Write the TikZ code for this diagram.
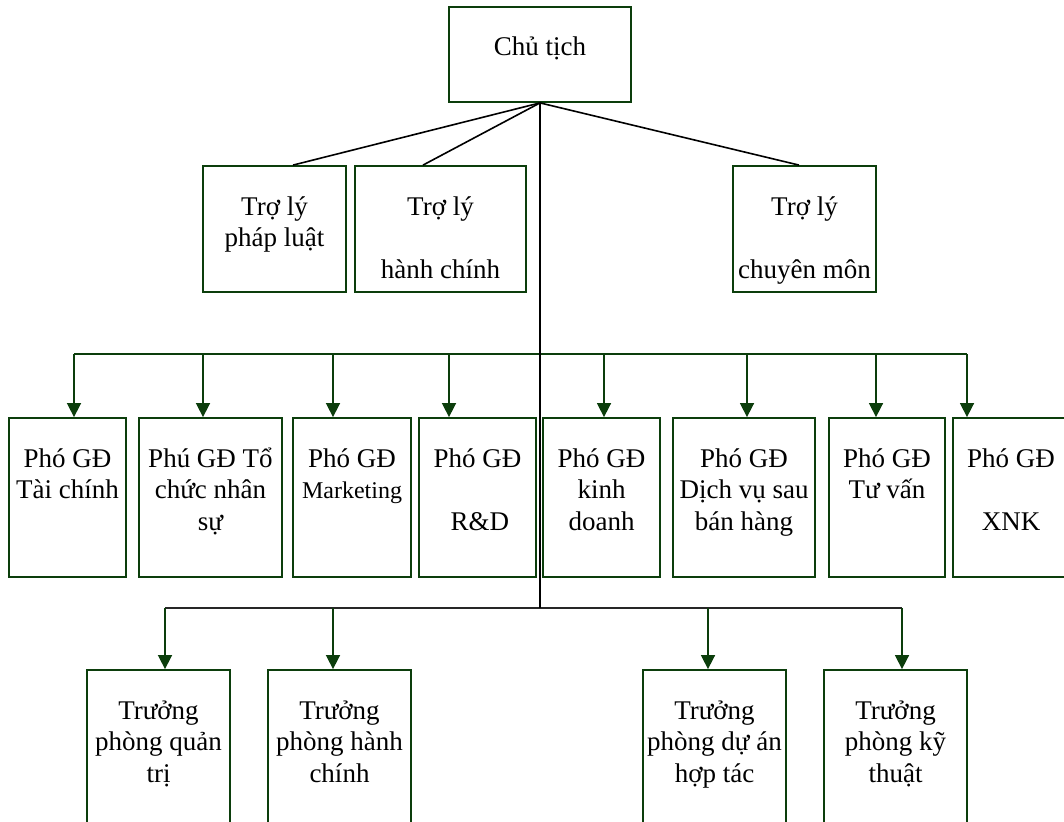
\documentclass[tikz,border=0pt]{standalone}
\usepackage{fontspec}
\setmainfont{Liberation Serif}
\usetikzlibrary{arrows.meta}

\definecolor{boxgreen}{RGB}{12,62,12}

% box text: fixed box size, first baseline 49pt below the top edge
\newcommand\boxtext[3]{\parbox[c][#2][t]{#1}{\centering\rule{0pt}{49pt}#3}}
\newcommand\tl[1]{\makebox[0pt]{#1}}

\begin{document}
\begin{tikzpicture}[x=1pt,y=-1pt,
  orgbox/.style={draw=boxgreen, line width=1.8pt, inner sep=0pt, fill=white,
                 font=\fontsize{27}{31.5}\selectfont},
  link/.style={draw=black, line width=1.6pt},
  spine/.style={draw=black, line width=1.8pt},
  bus/.style={draw=boxgreen, line width=1.6pt},
  blackbus/.style={draw=black!85, line width=1.6pt},
  arr/.style={draw=boxgreen, line width=1.6pt,
              -{Triangle[width=14pt,length=14pt]}, fill=boxgreen}]
\useasboundingbox (0,0) rectangle (1064,821);
\clip (0,0) rectangle (1064,821);

% top level
\node[orgbox] (ct) at (540,54.5) {\boxtext{182pt}{95pt}{\tl{Chủ tịch}}};

% assistants
\node[orgbox] (pl) at (274.5,229) {\boxtext{143pt}{126pt}{\tl{Trợ lý}\\\tl{pháp luật}}};
\node[orgbox] (hc) at (440.5,229) {\boxtext{171pt}{126pt}{\tl{Trợ lý}\\[31.5pt]\tl{hành chính}}};
\node[orgbox] (cm) at (804.5,229) {\boxtext{143pt}{126pt}{\tl{Trợ lý}\\[31.5pt]\tl{chuyên môn}}};

% deputy directors
\node[orgbox] (m1) at (67.5,497.5) {\boxtext{117pt}{159pt}{\tl{Phó GĐ}\\\tl{Tài chính}}};
\node[orgbox] (m2) at (210.5,497.5) {\boxtext{143pt}{159pt}{\tl{Phú GĐ Tổ}\\\tl{chức nhân}\\\tl{sự}}};
\node[orgbox] (m3) at (352,497.5) {\boxtext{118pt}{159pt}{\tl{Phó GĐ}\\\tl{\fontsize{24}{31.5}\selectfont Marketing}}};
\node[orgbox] (m4) at (477.5,497.5) {\boxtext{117pt}{159pt}{\tl{Phó GĐ}\\[31.5pt]\tl{\,R\&D}}};
\node[orgbox] (m5) at (601.5,497.5) {\boxtext{117pt}{159pt}{\tl{Phó GĐ}\\\tl{kinh}\\\tl{doanh}}};
\node[orgbox] (m6) at (744,497.5) {\boxtext{142pt}{159pt}{\tl{Phó GĐ}\\\tl{Dịch vụ sau}\\\tl{bán hàng}}};
\node[orgbox] (m7) at (887,497.5) {\boxtext{116pt}{159pt}{\tl{Phó GĐ}\\\tl{Tư vấn}}};
\node[orgbox] (m8) at (1011,497.5) {\boxtext{116pt}{159pt}{\tl{Phó GĐ}\\[31.5pt]\tl{XNK}}};

% department heads
\node[orgbox] (b1) at (158.5,760) {\boxtext{143pt}{180pt}{\tl{Trưởng}\\\tl{phòng quản}\\\tl{trị}}};
\node[orgbox] (b2) at (339.5,760) {\boxtext{143pt}{180pt}{\tl{Trưởng}\\\tl{phòng hành}\\\tl{chính}}};
\node[orgbox] (b3) at (714.5,760) {\boxtext{143pt}{180pt}{\tl{Trưởng}\\\tl{phòng dự án}\\\tl{hợp tác}}};
\node[orgbox] (b4) at (895.5,760) {\boxtext{143pt}{180pt}{\tl{Trưởng}\\\tl{phòng kỹ}\\\tl{thuật}}};

% junctions on the two distribution lines
\coordinate (jm1) at (74,354);
\coordinate (jm2) at (203,354);
\coordinate (jm3) at (333,354);
\coordinate (jm4) at (449,354);
\coordinate (jm5) at (604,354);
\coordinate (jm6) at (747,354);
\coordinate (jm7) at (876,354);
\coordinate (jm8) at (967,354);
\coordinate (jb1) at (165,608);
\coordinate (jb2) at (333,608);
\coordinate (jb3) at (708,608);
\coordinate (jb4) at (902,608);
\coordinate (spineend) at (540,608);

% assistants links
\draw[link] (ct.south) -- ([xshift=18.5pt]pl.north);
\draw[link] (ct.south) -- ([xshift=-17.5pt]hc.north);
\draw[link] (ct.south) -- ([xshift=-5.5pt]cm.north);

% deputy directors
\draw[bus] (jm1) -- (jm8);
\foreach \i in {1,...,8} {
  \draw[arr] (jm\i) -- (jm\i |- m\i.north);
}

% department heads
\draw[blackbus] (jb1) -- (jb4);
\foreach \i in {1,...,4} {
  \draw[arr] (jb\i) -- (jb\i |- b\i.north);
}

% main vertical line
\draw[spine] (ct.south) -- (spineend);
\end{tikzpicture}
\end{document}
